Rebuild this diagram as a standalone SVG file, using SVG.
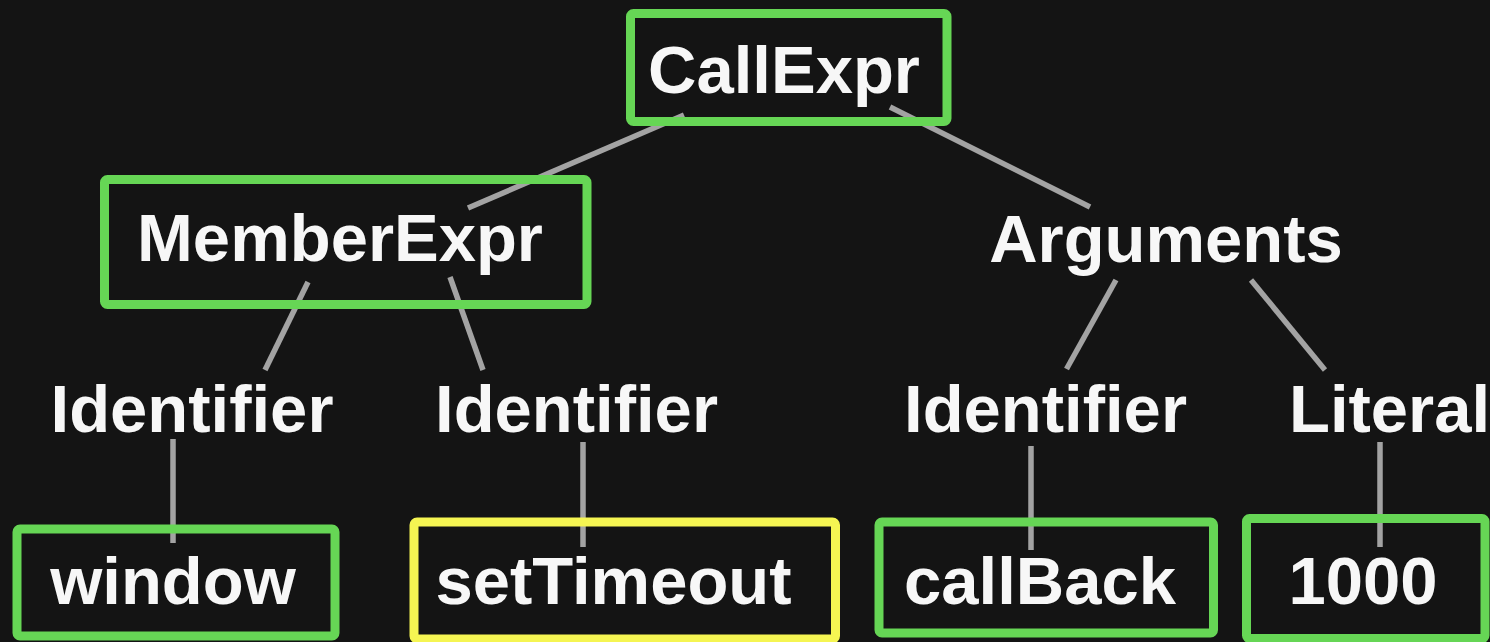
<svg xmlns="http://www.w3.org/2000/svg" width="1490" height="642" viewBox="0 0 1490 642">
  <style>
    .bg { fill: #141414; }
    .box { fill: none; stroke: #66d655; stroke-width: 9; }
    .box.hl { stroke: #f5f552; }
    .lbl { fill: #f7f7f7; font-family: "Liberation Sans", Arial, Helvetica, sans-serif; font-weight: bold; font-size: 67px; text-anchor: middle; }
    .edge { stroke: #a3a3a3; stroke-width: 5.5; fill: none; }
  </style>
  <rect class="bg" x="0" y="0" width="1490" height="642"/>

  <!-- tree edges -->
  <g id="connectors">
    <line class="edge" x1="684" y1="115" x2="468" y2="208"/>
    <line class="edge" x1="890" y1="107" x2="1090" y2="207"/>
    <line class="edge" x1="308" y1="282" x2="265" y2="370"/>
    <line class="edge" x1="450" y1="277" x2="483" y2="370"/>
    <line class="edge" x1="1116" y1="280" x2="1066.5" y2="369"/>
    <line class="edge" x1="1251" y1="280" x2="1325" y2="370"/>
    <line class="edge" x1="173" y1="439" x2="173" y2="543"/>
    <line class="edge" x1="583" y1="442" x2="583" y2="547"/>
    <line class="edge" x1="1031" y1="446" x2="1031" y2="550"/>
    <line class="edge" x1="1380" y1="442" x2="1380" y2="547"/>
  </g>

  <g id="call-expr">
    <rect class="box" x="630.5" y="13.5" width="316.5" height="108" rx="3"/>
    <text class="lbl" x="784" y="93">CallExpr</text>
  </g>

  <g id="member-expr">
    <rect class="box" x="104.5" y="179.5" width="482.5" height="125" rx="3"/>
    <text class="lbl" x="340" y="261">MemberExpr</text>
  </g>

  <g id="arguments">
    <text class="lbl" x="1166" y="262">Arguments</text>
  </g>

  <g id="identifier-object">
    <text class="lbl" x="192" y="432">Identifier</text>
  </g>

  <g id="identifier-property">
    <text class="lbl" x="576.5" y="432">Identifier</text>
  </g>

  <g id="identifier-arg">
    <text class="lbl" x="1045.5" y="432">Identifier</text>
  </g>

  <g id="literal">
    <text class="lbl" x="1389.5" y="432">Literal</text>
  </g>

  <g id="window">
    <rect class="box" x="17" y="529" width="318" height="107" rx="3"/>
    <text class="lbl" x="173" y="603.5">window</text>
  </g>

  <g id="set-timeout">
    <rect class="box hl" x="414" y="522" width="421.5" height="117" rx="3"/>
    <text class="lbl" x="613.5" y="604">setTimeout</text>
  </g>

  <g id="call-back">
    <rect class="box" x="879" y="522" width="334.5" height="111" rx="3"/>
    <text class="lbl" x="1040" y="603.5">callBack</text>
  </g>

  <g id="literal-1000">
    <rect class="box" x="1246.5" y="518.5" width="238.5" height="120" rx="3"/>
    <text class="lbl" x="1363" y="603.5">1000</text>
  </g>
</svg>
